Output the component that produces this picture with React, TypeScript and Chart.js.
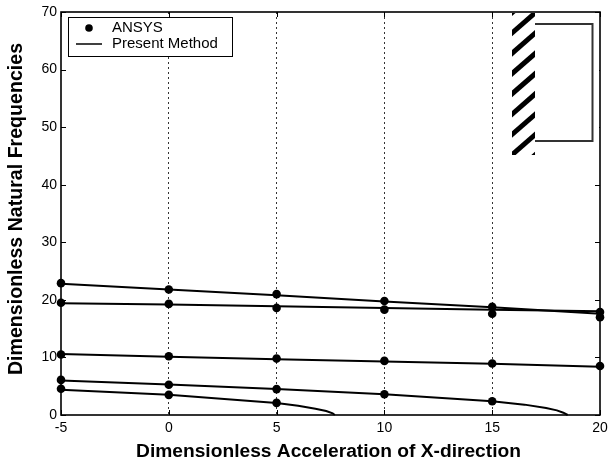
import React, { useEffect, useRef } from "react";
import { Chart, registerables } from "chart.js";

Chart.register(...registerables);

const FONT = '"Liberation Sans", Arial, sans-serif';

const xTitle = "Dimensionless Acceleration of X-direction";
const yTitle = "Dimensionless Natural Frequencies";

const tickX = [-5, 0, 5, 10, 15, 20];

// ANSYS points, read at the tick positions
const ansysA = [22.9, 21.8, 21.0, 19.8, 18.8, 17.9];
const ansysB = [19.5, 19.3, 18.6, 18.3, 17.6, 17.0];
const ansysC = [10.5, 10.2, 9.8, 9.4, 8.95, 8.5];
const ansysD = [6.1, 5.25, 4.5, 3.6, 2.4];
const ansysE = [4.55, 3.5, 2.1];

// Present Method curves
const curveAX = [-5, 0, 5, 10, 15, 20];
const curveAY = [22.8, 21.8, 20.8, 19.7, 18.7, 17.6];
const curveBX = [-5, 0, 5, 10, 15, 20];
const curveBY = [19.4, 19.2, 18.9, 18.6, 18.3, 18.0];
const curveCX = [-5, 0, 5, 10, 15, 20];
const curveCY = [10.6, 10.1, 9.7, 9.3, 8.9, 8.4];
const curveDX = [-5, 0, 5, 10, 15, 16.5, 17.5, 18, 18.3, 18.5];
const curveDY = [6.0, 5.3, 4.5, 3.6, 2.4, 1.8, 1.2, 0.8, 0.4, 0];
const curveEX = [-5, 0, 5, 6, 6.8, 7.3, 7.6, 7.7];
const curveEY = [4.4, 3.5, 2.1, 1.6, 1.1, 0.7, 0.3, 0];

const pairs = (xs: number[], ys: number[]) => ys.map((y, i) => ({ x: xs[i], y }));

const lineSets = [
  [curveAX, curveAY],
  [curveBX, curveBY],
  [curveCX, curveCY],
  [curveDX, curveDY],
  [curveEX, curveEY],
].map(([xs, ys]) => ({
  type: "line" as const,
  label: "Present Method",
  data: pairs(xs, ys),
  borderColor: "#000",
  borderWidth: 2,
  pointRadius: 0,
  tension: 0,
  clip: false,
}));

const pointSets = [ansysA, ansysB, ansysC, ansysD, ansysE].map((ys) => ({
  type: "scatter" as const,
  label: "ANSYS",
  data: pairs(tickX, ys),
  showLine: false,
  pointRadius: 4.3,
  pointBackgroundColor: "#000",
  pointBorderColor: "#000",
  pointBorderWidth: 0,
  clip: false,
}));

const frame = {
  id: "frame",
  afterDatasetsDraw(chart: any) {
    const { ctx, chartArea: a, scales } = chart;
    ctx.save();
    ctx.strokeStyle = "#000";
    // inward ticks on all sides
    ctx.lineWidth = 1;
    ctx.beginPath();
    scales.y.ticks.forEach((t: any) => {
      const y = Math.round(scales.y.getPixelForValue(t.value)) + 0.5;
      ctx.moveTo(a.left, y); ctx.lineTo(a.left + 5, y);
      ctx.moveTo(a.right, y); ctx.lineTo(a.right - 5, y);
    });
    scales.x.ticks.forEach((t: any) => {
      const x = Math.round(scales.x.getPixelForValue(t.value)) + 0.5;
      ctx.moveTo(x, a.top); ctx.lineTo(x, a.top + 5);
      ctx.moveTo(x, a.bottom); ctx.lineTo(x, a.bottom - 5);
    });
    ctx.stroke();
    // axes box
    ctx.lineWidth = 1.6;
    ctx.strokeRect(a.left, a.top, a.right - a.left, a.bottom - a.top);

    // inset sketch: hatched wall and rectangle
    const wl = a.left + 451, wr = a.left + 474, wt = a.top + 1, wb = a.top + 143;
    ctx.fillStyle = "#fff";
    ctx.fillRect(wl, wt, a.right - wl - 1, wb - wt);
    ctx.save();
    ctx.beginPath();
    ctx.rect(wl, wt, wr - wl, wb - wt);
    ctx.clip();
    ctx.strokeStyle = "#000";
    ctx.lineWidth = 5;
    for (let i = -1; i < 8; i++) {
      const y = a.top + 21 + i * 20.3;
      ctx.beginPath();
      ctx.moveTo(wl - 4, y + 3.5);
      ctx.lineTo(wr + 4, y - 23.5);
      ctx.stroke();
    }
    ctx.restore();
    ctx.strokeStyle = "#333";
    ctx.lineWidth = 2;
    ctx.beginPath();
    ctx.moveTo(a.left + 474, a.top + 12);
    ctx.lineTo(a.left + 531.5, a.top + 12);
    ctx.lineTo(a.left + 531.5, a.top + 129);
    ctx.lineTo(a.left + 474, a.top + 129);
    ctx.stroke();

    // legend
    const lx = a.left + 7, ly = a.top + 5, lw = 164, lh = 39;
    ctx.fillStyle = "#fff";
    ctx.fillRect(lx, ly, lw, lh);
    ctx.strokeStyle = "#000";
    ctx.lineWidth = 1;
    ctx.strokeRect(lx + 0.5, ly + 0.5, lw, lh);
    ctx.fillStyle = "#000";
    ctx.beginPath();
    ctx.arc(lx + 21, ly + 11, 3.8, 0, Math.PI * 2);
    ctx.fill();
    ctx.lineWidth = 1.5;
    ctx.beginPath();
    ctx.moveTo(lx + 8, ly + 27);
    ctx.lineTo(lx + 34, ly + 27);
    ctx.stroke();
    ctx.font = `15px ${FONT}`;
    ctx.textBaseline = "middle";
    ctx.textAlign = "left";
    ctx.fillStyle = "#000";
    ctx.fillText(pointSets[0].label, lx + 44, ly + 11);
    ctx.fillText(lineSets[0].label, lx + 44, ly + 27);

    // axis titles
    ctx.textAlign = "center";
    ctx.font = `bold 19.2px ${FONT}`;
    ctx.fillText(xTitle, 328.5, 452);
    ctx.translate(17, 209);
    ctx.rotate(-Math.PI / 2);
    ctx.font = `bold 19.6px ${FONT}`;
    ctx.fillText(yTitle, 0, 0);
    ctx.restore();
  },
};

export default function App() {
  const ref = useRef<HTMLCanvasElement>(null);
  useEffect(() => {
    document.body.style.margin = "0";
    const chart = new Chart(ref.current!, {
      type: "line",
      data: { datasets: [...lineSets, ...pointSets] as any },
      plugins: [frame],
      options: {
        animation: false,
        responsive: false,
        layout: { padding: { top: 12, right: 8, left: 0, bottom: 0 }, autoPadding: false },
        plugins: { legend: { display: false }, tooltip: { enabled: false } },
        scales: {
          x: {
            type: "linear",
            min: -5,
            max: 20,
            afterFit: (s: any) => { s.height = 48; s.paddingLeft = 0; s.paddingRight = 0; },
            afterBuildTicks: (s: any) => { s.ticks = tickX.map((value) => ({ value })); },
            border: { display: false, dash: [2, 3] },
            grid: {
              drawTicks: false,
              color: (c: any) => (c.tick && (c.tick.value === -5 || c.tick.value === 20) ? "transparent" : "#333"),
              lineWidth: 1,
            },
            ticks: { color: "#000", font: { family: FONT, size: 14 }, padding: 5, maxRotation: 0, autoSkip: false },
          },
          y: {
            min: 0,
            max: 70,
            afterFit: (s: any) => { s.width = 61; s.paddingTop = 0; s.paddingBottom = 0; },
            border: { display: false },
            grid: { display: false, drawTicks: false },
            ticks: { stepSize: 10, color: "#000", font: { family: FONT, size: 14 }, padding: 4 },
          },
        },
      } as any,
    });
    return () => chart.destroy();
  }, []);
  return <canvas ref={ref} width={608} height={463} style={{ display: "block" }} />;
}
